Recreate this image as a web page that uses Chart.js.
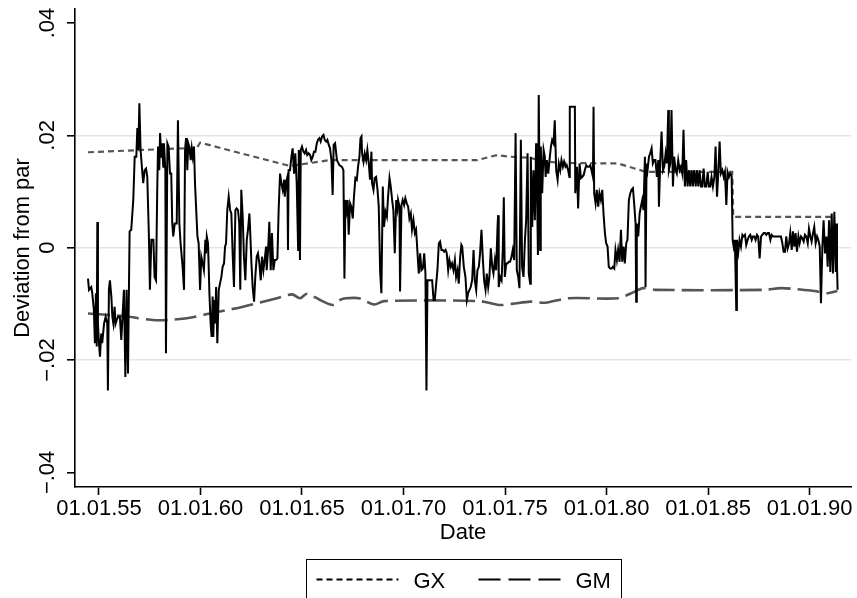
<!DOCTYPE html>
<html>
<head>
<meta charset="utf-8">
<script src="https://cdn.jsdelivr.net/npm/chart.js@4.4.0/dist/chart.umd.min.js"></script>
<style>
  html, body { margin: 0; padding: 0; background: #fff; }
</style>
</head>
<body>
<canvas id="chart" width="857" height="598"></canvas>
<script>
// --- DATA ---
// deviation from par, x in fractional years
const devYears = [
  1954.46, 1954.51, 1954.62, 1954.67, 1954.75, 1954.80, 1954.85, 1954.89, 1954.92, 1954.95,
  1955.00, 1955.05, 1955.11, 1955.16, 1955.25, 1955.33, 1955.41, 1955.44, 1955.49, 1955.54,
  1955.61, 1955.66, 1955.71, 1955.77, 1955.82, 1955.87, 1955.94, 1956.03, 1956.10, 1956.15,
  1956.23, 1956.30, 1956.36, 1956.43, 1956.46, 1956.51, 1956.59, 1956.69, 1956.76, 1956.84,
  1956.89, 1956.94, 1956.99, 1957.05, 1957.14, 1957.18, 1957.25, 1957.32, 1957.38, 1957.46,
  1957.51, 1957.58, 1957.68, 1957.74, 1957.81, 1957.87, 1957.91, 1957.97, 1958.01, 1958.07,
  1958.10, 1958.17, 1958.20, 1958.27, 1958.30, 1958.37, 1958.43, 1958.50, 1958.56, 1958.61,
  1958.66, 1958.73, 1958.83, 1958.89, 1958.96, 1959.02, 1959.12, 1959.19, 1959.24, 1959.29,
  1959.32, 1959.35, 1959.40, 1959.45, 1959.52, 1959.57, 1959.62, 1959.68, 1959.73, 1959.85,
  1959.91, 1959.98, 1960.04, 1960.11, 1960.17, 1960.24, 1960.27, 1960.31, 1960.37, 1960.40,
  1960.44, 1960.50, 1960.55, 1960.60, 1960.63, 1960.68, 1960.73, 1960.77, 1960.83, 1960.90,
  1960.96, 1961.03, 1961.09, 1961.16, 1961.21, 1961.26, 1961.32, 1961.39, 1961.46, 1961.52,
  1961.59, 1961.65, 1961.72, 1961.78, 1961.85, 1961.91, 1961.96, 1962.01, 1962.08, 1962.14,
  1962.21, 1962.28, 1962.34, 1962.41, 1962.44, 1962.51, 1962.57, 1962.64, 1962.70, 1962.77,
  1962.83, 1962.90, 1962.97, 1963.03, 1963.10, 1963.16, 1963.23, 1963.26, 1963.33, 1963.39,
  1963.46, 1963.52, 1963.59, 1963.66, 1963.72, 1963.79, 1963.85, 1963.92, 1963.98, 1964.05,
  1964.12, 1964.15, 1964.21, 1964.28, 1964.31, 1964.34, 1964.41, 1964.48, 1964.54, 1964.61,
  1964.67, 1964.74, 1964.81, 1964.84, 1964.90, 1964.94, 1965.00, 1965.07, 1965.13, 1965.20,
  1965.26, 1965.33, 1965.40, 1965.46, 1965.53, 1965.59, 1965.66, 1965.73, 1965.79, 1965.86,
  1965.92, 1965.99, 1966.06, 1966.12, 1966.19, 1966.25, 1966.32, 1966.38, 1966.45, 1966.51,
  1966.56, 1966.63, 1966.72, 1966.84, 1966.97, 1967.04, 1967.09, 1967.14, 1967.20, 1967.25,
  1967.30, 1967.37, 1967.43, 1967.50, 1967.56, 1967.63, 1967.70, 1967.76, 1967.83, 1967.88,
  1967.93, 1967.96, 1968.03, 1968.09, 1968.16, 1968.22, 1968.29, 1968.35, 1968.42, 1968.45,
  1968.52, 1968.58, 1968.65, 1968.72, 1968.78, 1968.85, 1968.91, 1968.98, 1969.04, 1969.11,
  1969.18, 1969.24, 1969.31, 1969.37, 1969.44, 1969.50, 1969.57, 1969.64, 1969.70, 1969.73,
  1969.80, 1969.83, 1969.90, 1969.96, 1970.03, 1970.09, 1970.16, 1970.23, 1970.29, 1970.36,
  1970.42, 1970.49, 1970.56, 1970.62, 1970.69, 1970.75, 1970.82, 1970.88, 1970.95, 1971.02,
  1971.08, 1971.13, 1971.18, 1971.25, 1971.34, 1971.41, 1971.48, 1971.54, 1971.61, 1971.67,
  1971.74, 1971.80, 1971.87, 1971.93, 1972.00, 1972.07, 1972.13, 1972.20, 1972.26, 1972.33,
  1972.39, 1972.46, 1972.53, 1972.59, 1972.66, 1972.72, 1972.79, 1972.85, 1972.89, 1972.97,
  1973.05, 1973.12, 1973.18, 1973.25, 1973.31, 1973.38, 1973.45, 1973.51, 1973.58, 1973.64,
  1973.71, 1973.77, 1973.84, 1973.91, 1973.97, 1974.04, 1974.10, 1974.17, 1974.23, 1974.30,
  1974.37, 1974.43, 1974.50, 1974.56, 1974.63, 1974.66, 1974.69, 1974.76, 1974.83, 1974.89,
  1974.94, 1974.99, 1975.06, 1975.12, 1975.19, 1975.25, 1975.32, 1975.38, 1975.45, 1975.52,
  1975.58, 1975.65, 1975.71, 1975.78, 1975.84, 1975.91, 1975.98, 1976.04, 1976.11, 1976.17,
  1976.24, 1976.27, 1976.34, 1976.40, 1976.47, 1976.53, 1976.57, 1976.62, 1976.66, 1976.73,
  1976.76, 1976.83, 1976.90, 1976.96, 1977.00, 1977.06, 1977.13, 1977.19, 1977.26, 1977.32,
  1977.39, 1977.45, 1977.52, 1977.59, 1977.65, 1977.72, 1977.78, 1977.85, 1977.91, 1977.98,
  1978.04, 1978.11, 1978.17, 1978.19, 1978.44, 1978.46, 1978.54, 1978.60, 1978.67, 1978.74,
  1978.80, 1978.87, 1978.93, 1979.00, 1979.06, 1979.13, 1979.20, 1979.26, 1979.33, 1979.36,
  1979.39, 1979.46, 1979.52, 1979.59, 1979.65, 1979.72, 1979.79, 1979.85, 1979.92, 1979.98,
  1980.05, 1980.11, 1980.18, 1980.25, 1980.31, 1980.38, 1980.44, 1980.51, 1980.57, 1980.64,
  1980.71, 1980.77, 1980.84, 1980.90, 1980.97, 1981.03, 1981.10, 1981.17, 1981.23, 1981.30,
  1981.36, 1981.43, 1981.46, 1981.49, 1981.56, 1981.63, 1981.69, 1981.76, 1981.82, 1981.89,
  1981.92, 1981.97, 1982.02, 1982.09, 1982.15, 1982.22, 1982.28, 1982.35, 1982.41, 1982.48,
  1982.55, 1982.58, 1982.65, 1982.71, 1982.78, 1982.84, 1982.91, 1982.97, 1983.04, 1983.07,
  1983.14, 1983.20, 1983.27, 1983.33, 1983.40, 1983.46, 1983.53, 1983.60, 1983.66, 1983.73,
  1983.79, 1983.86, 1983.92, 1983.99, 1984.06, 1984.12, 1984.19, 1984.25, 1984.32, 1984.39,
  1984.45, 1984.52, 1984.58, 1984.65, 1984.71, 1984.78, 1984.84, 1984.91, 1984.98, 1985.04,
  1985.11, 1985.17, 1985.24, 1985.31, 1985.37, 1985.44, 1985.50, 1985.57, 1985.63, 1985.70,
  1985.77, 1985.83, 1985.90, 1985.96, 1986.03, 1986.09, 1986.16, 1986.21, 1986.26, 1986.32,
  1986.39, 1986.42, 1986.49, 1986.55, 1986.62, 1986.69, 1986.75, 1986.82, 1986.88, 1986.95,
  1987.01, 1987.08, 1987.15, 1987.21, 1987.28, 1987.34, 1987.41, 1987.47, 1987.54, 1987.61,
  1987.67, 1987.74, 1987.80, 1987.87, 1987.93, 1988.00, 1988.07, 1988.13, 1988.20, 1988.26,
  1988.33, 1988.39, 1988.46, 1988.53, 1988.59, 1988.66, 1988.72, 1988.79, 1988.85, 1988.92,
  1988.99, 1989.05, 1989.12, 1989.18, 1989.25, 1989.31, 1989.38, 1989.45, 1989.51, 1989.58,
  1989.64, 1989.71, 1989.77, 1989.84, 1989.91, 1989.97, 1990.04, 1990.10, 1990.17, 1990.23,
  1990.30, 1990.37, 1990.43, 1990.50, 1990.56, 1990.63, 1990.69, 1990.76, 1990.83, 1990.89,
  1990.96, 1991.02, 1991.09, 1991.15, 1991.22, 1991.29, 1991.32, 1991.35, 1991.38
];
const devValues = [
  -0.0055, -0.0075, -0.0070, -0.0081, -0.0111, -0.0170, -0.0081, -0.0176, 0.0046, -0.0135,
  -0.0170, -0.0194, -0.0153, -0.0170, -0.0135, -0.0123, -0.0135, -0.0254, -0.0075, -0.0058,
  -0.0087, -0.0123, -0.0135, -0.0105, -0.0135, -0.0129, -0.0123, -0.0123, -0.0164, -0.0129,
  -0.0075, -0.0230, -0.0075, -0.0224, -0.0123, 0.0029, 0.0032, 0.0085, 0.0162, 0.0162,
  0.0213, 0.0174, 0.0257, 0.0174, 0.0132, 0.0115, 0.0138, 0.0141, 0.0126, 0.0020,
  -0.0075, 0.0014, 0.0014, -0.0052, -0.0058, 0.0103, 0.0180, 0.0138, 0.0204, 0.0162,
  0.0186, 0.0144, 0.0186, 0.0138, -0.0188, 0.0186, 0.0180, 0.0132, 0.0132, 0.0043,
  0.0020, 0.0043, 0.0043, 0.0227, 0.0043, 0.0008, -0.0034, -0.0075, 0.0174, 0.0195,
  0.0180, 0.0138, 0.0186, 0.0180, 0.0156, 0.0177, 0.0162, 0.0180, 0.0115, 0.0020,
  0.0008, -0.0075, -0.0016, -0.0028, -0.0040, 0.0014, -0.0010, 0.0020, 0.0008, -0.0028,
  -0.0081, -0.0135, -0.0159, -0.0087, -0.0159, -0.0093, -0.0135, -0.0070, -0.0170, -0.0075,
  -0.0064, -0.0052, -0.0034, -0.0028, 0.0002, 0.0008, 0.0067, 0.0091, 0.0067, 0.0061,
  -0.0016, -0.0070, 0.0067, 0.0070, 0.0067, 0.0043, -0.0075, 0.0103, 0.0055, -0.0016,
  -0.0058, 0.0014, 0.0032, 0.0061, 0.0037, -0.0028, -0.0070, -0.0096, -0.0052, -0.0016,
  -0.0010, -0.0028, -0.0058, -0.0016, -0.0040, -0.0022, 0.0002, -0.0040, -0.0004, 0.0046,
  -0.0040, 0.0026, -0.0040, -0.0022, -0.0022, -0.0019, 0.0067, 0.0132, 0.0115, 0.0103,
  0.0121, 0.0091, 0.0115, 0.0126, -0.0004, 0.0138, 0.0138, 0.0162, 0.0177, 0.0132,
  0.0168, 0.0115, -0.0004, 0.0174, -0.0022, 0.0174, 0.0180, 0.0171, 0.0168, 0.0174,
  0.0165, 0.0168, 0.0165, 0.0156, 0.0162, 0.0171, 0.0171, 0.0186, 0.0192, 0.0195,
  0.0189, 0.0198, 0.0201, 0.0192, 0.0189, 0.0192, 0.0183, 0.0177, 0.0156, 0.0094,
  0.0183, 0.0186, 0.0156, 0.0147, 0.0144, 0.0138, -0.0055, 0.0085, 0.0067, 0.0085,
  0.0023, 0.0079, 0.0073, 0.0052, 0.0091, 0.0124, 0.0121, 0.0144, 0.0162, 0.0195,
  0.0198, 0.0168, 0.0153, 0.0168, 0.0156, 0.0174, 0.0150, 0.0121, 0.0171, 0.0115,
  0.0103, 0.0124, 0.0126, 0.0103, 0.0073, -0.0043, -0.0081, 0.0109, 0.0037, 0.0064,
  0.0055, 0.0091, 0.0124, 0.0109, 0.0085, 0.0067, -0.0010, 0.0085, 0.0070, 0.0085,
  0.0073, -0.0078, 0.0076, 0.0085, 0.0076, 0.0088, 0.0079, 0.0073, 0.0052, 0.0061,
  0.0032, 0.0049, 0.0026, 0.0032, -0.0010, -0.0046, -0.0010, -0.0040, -0.0037, -0.0010,
  -0.0046, -0.0254, -0.0058, -0.0058, -0.0058, -0.0058, -0.0093, -0.0093, -0.0064, -0.0040,
  0.0008, 0.0011, -0.0004, -0.0004, -0.0007, -0.0004, -0.0010, -0.0040, -0.0022, -0.0034,
  -0.0028, -0.0040, -0.0022, -0.0052, -0.0040, -0.0064, -0.0016, 0.0005, 0.0002, -0.0034,
  -0.0052, -0.0093, -0.0081, -0.0075, -0.0070, -0.0058, -0.0004, -0.0058, -0.0075, -0.0040,
  -0.0034, -0.0010, 0.0032, -0.0022, -0.0058, -0.0075, -0.0046, -0.0070, -0.0052, -0.0001,
  -0.0034, -0.0046, -0.0022, -0.0040, 0.0037, 0.0058, -0.0070, -0.0052, -0.0058, -0.0004,
  0.0090, -0.0052, -0.0028, -0.0028, -0.0025, -0.0025, -0.0016, -0.0004, -0.0022, 0.0204,
  -0.0040, -0.0052, -0.0072, 0.0192, -0.0034, -0.0052, 0.0014, 0.0049, 0.0168, -0.0046,
  -0.0064, 0.0162, 0.0037, 0.0138, 0.0049, 0.0186, 0.0121, -0.0013, 0.0272, -0.0004,
  0.0180, 0.0097, 0.0174, 0.0162, 0.0126, 0.0156, 0.0132, 0.0156, 0.0180, 0.0192,
  0.0186, 0.0227, 0.0138, 0.0121, 0.0150, 0.0138, 0.0156, 0.0144, 0.0153, 0.0144,
  0.0147, 0.0138, 0.0126, 0.0251, 0.0251, 0.0097, 0.0144, 0.0070, 0.0150, 0.0124,
  0.0126, 0.0129, 0.0138, 0.0147, 0.0144, 0.0144, 0.0147, 0.0138, 0.0126, 0.0251,
  0.0097, 0.0079, 0.0103, 0.0073, 0.0097, 0.0085, 0.0103, 0.0061, 0.0026, 0.0008,
  0.0002, -0.0034, -0.0037, -0.0037, -0.0034, -0.0037, -0.0004, -0.0022, -0.0004, -0.0025,
  0.0032, -0.0025, 0.0002, -0.0028, 0.0008, 0.0014, 0.0085, 0.0097, 0.0103, 0.0106,
  0.0079, 0.0043, -0.0096, 0.0043, 0.0020, 0.0061, 0.0073, 0.0085, 0.0067, 0.0162,
  -0.0070, 0.0150, 0.0138, 0.0162, 0.0168, 0.0177, 0.0150, 0.0156, 0.0156, 0.0126,
  0.0156, 0.0073, 0.0159, 0.0207, 0.0138, 0.0144, 0.0168, 0.0150, 0.0245, 0.0138,
  0.0150, 0.0245, 0.0109, 0.0162, 0.0138, 0.0132, 0.0156, 0.0138, 0.0144, 0.0132,
  0.0210, 0.0109, 0.0156, 0.0109, 0.0138, 0.0109, 0.0138, 0.0109, 0.0138, 0.0109,
  0.0138, 0.0109, 0.0138, 0.0109, 0.0109, 0.0141, 0.0109, 0.0109, 0.0135, 0.0109,
  0.0109, 0.0126, 0.0109, 0.0126, 0.0180, 0.0091, 0.0132, 0.0189, 0.0132, 0.0138,
  0.0126, 0.0135, 0.0076, 0.0135, 0.0126, 0.0132, 0.0129, 0.0014, 0.0002, 0.0014,
  -0.0111, 0.0014, -0.0007, 0.0014, 0.0002, 0.0023, 0.0020, 0.0023, 0.0005, 0.0014,
  0.0020, 0.0023, 0.0014, 0.0020, 0.0020, 0.0014, 0.0023, 0.0020, -0.0019, 0.0020,
  0.0023, 0.0026, 0.0026, 0.0023, 0.0026, 0.0026, 0.0014, 0.0023, 0.0020, 0.0020,
  0.0020, 0.0020, 0.0020, 0.0020, 0.0020, 0.0008, -0.0007, -0.0007, 0.0020, -0.0001,
  0.0008, 0.0026, -0.0004, 0.0029, 0.0002, 0.0026, -0.0007, 0.0020, 0.0008, 0.0020,
  0.0017, 0.0011, 0.0023, 0.0020, 0.0008, 0.0034, 0.0020, 0.0011, 0.0026, 0.0037,
  0.0008, 0.0020, 0.0014, 0.0002, -0.0099, 0.0002, 0.0049, -0.0010, 0.0020, -0.0034,
  0.0049, -0.0043, 0.0061, -0.0046, 0.0064, -0.0043, 0.0043, -0.0034, -0.0075
];

// GX (upper band, dotted)
const gxYears  = [1954.46, 1959.83, 1959.98, 1964.41, 1966.38, 1973.63, 1974.61, 1975.25, 1976.24, 1976.73, 1977.70, 1980.57, 1981.95, 1986.19, 1986.24, 1991.13];
const gxValues = [0.0170, 0.0178, 0.0187, 0.01455, 0.0156, 0.0156, 0.0165, 0.0162, 0.0160, 0.0155, 0.0151, 0.0150, 0.0135, 0.0135, 0.0055, 0.0055];

// GM (lower band, dashed)
const gmYears  = [1954.46, 1956.28, 1957.76, 1959.24, 1960.47, 1962.10, 1963.77, 1964.51, 1964.90, 1965.25, 1965.89, 1966.53, 1966.88, 1967.17, 1967.81, 1968.55, 1969.04, 1973.72, 1974.71, 1975.35, 1976.24, 1976.98, 1978.11, 1980.57, 1981.21, 1981.81, 1982.40, 1987.77, 1988.61, 1990.23, 1990.87, 1991.37];
const gmValues = [-0.0117, -0.0122, -0.0129, -0.0126, -0.0117, -0.0105, -0.0090, -0.0083, -0.0090, -0.0082, -0.0093, -0.0102, -0.0093, -0.0090, -0.0090, -0.0101, -0.0095, -0.0095, -0.0102, -0.0100, -0.0096, -0.0098, -0.0090, -0.0090, -0.0081, -0.0072, -0.0075, -0.0075, -0.0072, -0.0077, -0.0081, -0.0077];

const xTicks = [1955, 1960, 1965, 1970, 1975, 1980, 1985, 1990];
const xTickLabels = ['01.01.55', '01.01.60', '01.01.65', '01.01.70', '01.01.75', '01.01.80', '01.01.85', '01.01.90'];
const yTicks = [-0.04, -0.02, 0, 0.02, 0.04];
const yTickLabels = ['\u2212.04', '\u2212.02', '0', '.02', '.04'];

const FONT = '"Liberation Sans", Arial, sans-serif';
const FONT_SIZE = 22;
const GREY = '#555555';

// legend entries (only the two bands, like the original)
const legendEntries = [
    { label: 'GX', dash: [6, 4] },
    { label: 'GM', dash: [22, 8] }
];

function toPoints(xs, ys) {
    return xs.map((x, i) => ({ x: x, y: ys[i] }));
}

// rotated y tick labels (Stata style)
const yLabelPlugin = {
    id: 'yLabels',
    afterDraw(chart) {
        const ctx = chart.ctx;
        const yScale = chart.scales.y;
        ctx.save();
        ctx.font = FONT_SIZE + 'px ' + FONT;
        ctx.fillStyle = '#000';
        ctx.textAlign = 'center';
        ctx.textBaseline = 'alphabetic';
        yTicks.forEach((v, i) => {
            ctx.save();
            ctx.translate(yScale.right - 21, yScale.getPixelForValue(v));
            ctx.rotate(-Math.PI / 2);
            ctx.fillText(yTickLabels[i], 0, 0);
            ctx.restore();
        });
        ctx.restore();
    }
};

// boxed legend under the x title
const boxLegendPlugin = {
    id: 'boxLegend',
    afterDraw(chart) {
        const ctx = chart.ctx;
        const area = chart.chartArea;
        const boxW = 315;
        const left = Math.round((area.left + area.right) / 2 - boxW / 2) + 0.5;
        const top = 559.5;
        ctx.save();
        ctx.strokeStyle = '#000';
        ctx.lineWidth = 1;
        ctx.strokeRect(left, top, boxW, 60);

        const lineY = 579.5;
        ctx.font = FONT_SIZE + 'px ' + FONT;
        ctx.fillStyle = '#000';
        ctx.textBaseline = 'alphabetic';
        ctx.textAlign = 'left';
        let x = left + 10;
        legendEntries.forEach((item) => {
            ctx.beginPath();
            ctx.setLineDash(item.dash);
            ctx.lineWidth = 2;
            ctx.strokeStyle = '#000';
            ctx.moveTo(x, lineY);
            ctx.lineTo(x + 82, lineY);
            ctx.stroke();
            ctx.setLineDash([]);
            ctx.fillText(item.label, x + 97, lineY + 8);
            x += 162;
        });
        ctx.restore();
    }
};

const chart = new Chart(document.getElementById('chart'), {
    type: 'line',
    data: {
        datasets: [
            {
                label: 'Deviation',
                data: toPoints(devYears, devValues),
                borderColor: '#000',
                borderWidth: 2,
                pointRadius: 0,
                tension: 0
            },
            {
                label: 'GX',
                data: toPoints(gxYears, gxValues),
                borderColor: GREY,
                borderWidth: 2.2,
                borderDash: [6, 4],
                pointRadius: 0,
                tension: 0
            },
            {
                label: 'GM',
                data: toPoints(gmYears, gmValues),
                borderColor: GREY,
                borderWidth: 2.6,
                borderDash: [22, 7],
                pointRadius: 0,
                tension: 0.3
            }
        ]
    },
    options: {
        responsive: false,
        animation: false,
        layout: { padding: { top: 9, right: 6, bottom: 49, left: 0 } },
        plugins: {
            legend: { display: false },
            tooltip: { enabled: false }
        },
        scales: {
            x: {
                type: 'linear',
                min: 1953.82,
                max: 1992.04,
                afterBuildTicks: (s) => { s.ticks = xTicks.map(v => ({ value: v })); },
                afterFit: (s) => { s.height = 62; },
                ticks: {
                    autoSkip: false,
                    maxRotation: 0,
                    minRotation: 0,
                    padding: 1,
                    color: '#000',
                    font: { family: FONT, size: FONT_SIZE },
                    callback: (v, i) => xTickLabels[i]
                },
                grid: {
                    display: true,
                    drawOnChartArea: false,
                    drawTicks: true,
                    tickLength: 8,
                    tickColor: '#000',
                    tickWidth: 1.6
                },
                border: { display: true, color: '#000', width: 1.6 },
                title: {
                    display: true,
                    text: 'Date',
                    color: '#000',
                    font: { family: FONT, size: FONT_SIZE },
                    padding: { top: 0, bottom: 3 }
                }
            },
            y: {
                min: -0.0426,
                max: 0.0425,
                afterBuildTicks: (s) => { s.ticks = yTicks.map(v => ({ value: v })); },
                afterFit: (s) => { s.width = 75; },
                ticks: { display: false },
                grid: {
                    color: (c) => (c.tick && Math.abs(c.tick.value) < 0.03 ? '#e1e5ef' : 'rgba(0,0,0,0)'),
                    lineWidth: 1.6,
                    tickLength: 8,
                    tickColor: '#000',
                    tickWidth: 1.6
                },
                border: { display: true, color: '#000', width: 1.6 },
                title: {
                    display: true,
                    text: 'Deviation from par',
                    color: '#000',
                    font: { family: FONT, size: FONT_SIZE },
                    padding: { top: 10, bottom: 0 }
                }
            }
        }
    },
    plugins: [yLabelPlugin, boxLegendPlugin]
});
</script>
</body>
</html>
